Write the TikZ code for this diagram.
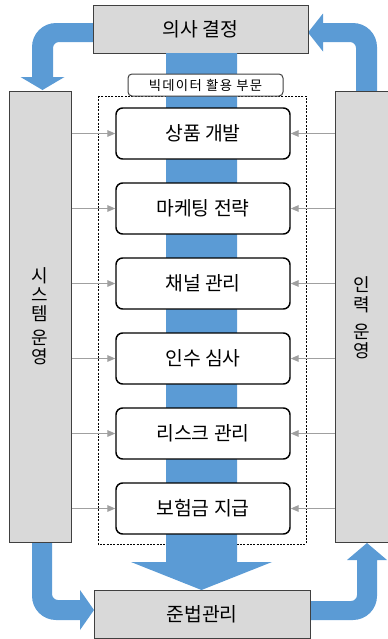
\documentclass[tikz,border=0pt]{standalone}
\usepackage{fontspec}
\setmainfont{Noto Sans CJK KR}
\usetikzlibrary{arrows.meta}
\definecolor{bandblue}{HTML}{5B9BD5}
\definecolor{boxgray}{HTML}{D9D9D9}
\definecolor{boxline}{HTML}{404040}
\definecolor{conngray}{HTML}{A0A0A0}
\tikzset{
  graybox/.style={draw=boxline, line width=0.75pt, fill=boxgray, inner sep=0pt, minimum width=#1},
  taskbox/.style={draw=black, line width=1.1pt, fill=white, rounded corners=5pt, inner sep=0pt,
    minimum width=130.5pt, minimum height=38.25pt, font=\fontsize{14.5pt}{16pt}\selectfont},
  tagbox/.style={draw=boxline, line width=0.75pt, fill=white, rounded corners=3pt, inner sep=0pt,
    minimum width=116.25pt, minimum height=16.5pt, font=\fontsize{10pt}{12pt}\selectfont\addfontfeature{LetterSpace=10}},
  conn/.style={draw=conngray, line width=0.75pt, -{Triangle[length=6pt,width=5pt]}},
  bigarrow/.style={fill=bandblue},
  vtext/.style={align=center, font=\fontsize{13.5pt}{14.5pt}\selectfont},
}
\begin{document}
\begin{tikzpicture}[x=0.75pt,y=-0.75pt]
\useasboundingbox (0,0) rectangle (388,639);
\clip (0,0) rectangle (388,639);
% curved blue arrows
\fill[bigarrow] (93,23) -- (56,23) .. controls (42.75,23) and (32,33.75) .. (32,47) -- (32,77) -- (20.5,77) -- (42.5,90) -- (64.5,77) -- (53,77) -- (53,48) .. controls (53,44.7) and (55.7,42) .. (59,42) -- (93,42) -- cycle;
\fill[bigarrow] (308,32.5) -- (323,13.5) -- (323,23) -- (353,23) .. controls (366.25,23) and (377,33.75) .. (377,47) -- (377,91) -- (356,91) -- (356,48) .. controls (356,44.7) and (353.3,42) .. (350,42) -- (323,42) -- (323,51.5) -- cycle;
\fill[bigarrow] (32,542) -- (32,596) .. controls (32,609.25) and (42.75,620) .. (56,620) -- (80,620) -- (80,630) -- (94,610) -- (80,590) -- (80,600) -- (58,600) .. controls (54.7,600) and (52,597.3) .. (52,594) -- (52,542) -- cycle;
\fill[bigarrow] (310,601) -- (351,601) .. controls (354.3,601) and (357,598.3) .. (357,595) -- (357,560) -- (347,560) -- (367,543) -- (387,560) -- (377,560) -- (377,596) .. controls (377,609.25) and (366.25,620) .. (353,620) -- (310,620) -- cycle;
% gray boxes
\node[graybox=161.25pt, minimum height=36pt, font=\fontsize{14.5pt}{16pt}\selectfont] (top) at (200.5,29) {의사 결정};
\node[graybox=162pt, minimum height=36pt, font=\fontsize{14.5pt}{16pt}\selectfont] (bot) at (202,614) {준법관리};
\node[graybox=46.5pt, minimum height=338.25pt] (lft) at (40,316.5) {};
\node[graybox=41.25pt, minimum height=338.25pt] (rgt) at (362.5,316.5) {};
\node[vtext] (lt) at (40,316) {시\\스\\템\\[3pt]운\\영};
\node[vtext] (rt) at (362,318) {인\\력\\[6pt]운\\영};
% dashed frame
\draw[black, line width=0.5pt, dash pattern=on 1.5pt off 1pt] (98,96) rectangle (306,544);
% central band
\fill[bigarrow] (166,53) -- (166,562) -- (131,562) -- (201.5,590) -- (272,562) -- (237,562) -- (237,53) -- cycle;
% label
\node[tagbox] (tag) at (205.5,85) {빅데이터 활용 부문};
% task boxes
\node[taskbox] (b1) at (203,133.5) {상품 개발};
\node[taskbox] (b2) at (203,208.5) {마케팅 전략};
\node[taskbox] (b3) at (203,283.5) {채널 관리};
\node[taskbox] (b4) at (203,358.5) {인수 심사};
\node[taskbox] (b5) at (203,433.5) {리스크 관리};
\node[taskbox] (b6) at (203,508.5) {보험금 지급};
\foreach \b in {b1,b2,b3,b4,b5,b6}{
  \draw[conn] (\b.west -| lft.east) -- (\b.west);
  \draw[conn] (\b.east -| rgt.west) -- (\b.east);
}
\end{tikzpicture}
\end{document}
